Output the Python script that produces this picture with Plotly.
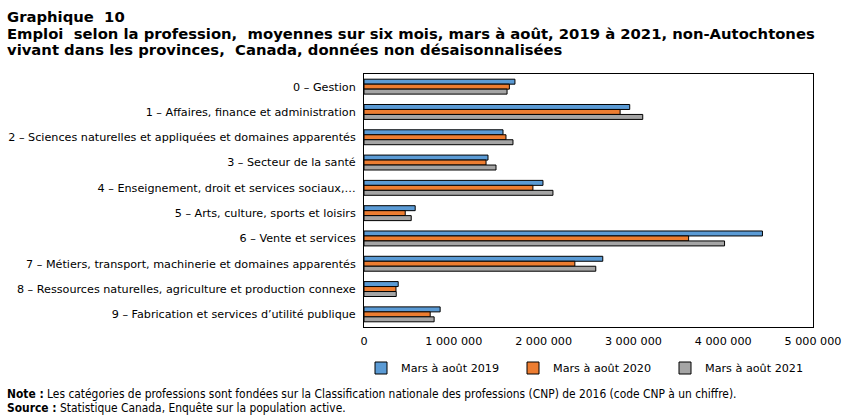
import plotly.graph_objects as go

categories = [
    "0 – Gestion",
    "1 – Affaires, finance et administration",
    "2 – Sciences naturelles et appliquées et domaines apparentés",
    "3 – Secteur de la santé",
    "4 – Enseignement, droit et services sociaux,…",
    "5 – Arts, culture, sports et loisirs",
    "6 – Vente et services",
    "7 – Métiers, transport, machinerie et domaines apparentés",
    "8 – Ressources naturelles, agriculture et production connexe",
    "9 – Fabrication et services d’utilité publique",
]
series_names = ["Mars à août 2019", "Mars à août 2020", "Mars à août 2021"]
v2019 = [1681000, 2959000, 1548000, 1381000, 1993000, 570000, 4437000, 2659000, 381000, 848000]
v2020 = [1619000, 2852000, 1581000, 1359000, 1881000, 459000, 3615000, 2348000, 356000, 737000]
v2021 = [1593000, 3104000, 1659000, 1470000, 2104000, 526000, 4015000, 2581000, 359000, 781000]
tick_vals = [0, 1000000, 2000000, 3000000, 4000000, 5000000]
tick_text = ["0", "1 000 000", "2 000 000", "3 000 000", "4 000 000", "5 000 000"]
colors = ["#5B9BD5", "#ED7D31", "#A5A5A5"]

title_lines = [
    "Graphique\u00a0 10",
    "Emploi\u00a0 selon la profession,\u00a0 moyennes sur six mois, mars à août, 2019 à 2021, non-Autochtones",
    "vivant dans les provinces,\u00a0 Canada, données non désaisonnalisées",
]
note_lines = [
    "<b>Note :</b> Les catégories de professions sont fondées sur la Classification nationale des professions (CNP) de 2016 (code CNP à un chiffre).",
    "<b>Source :</b> Statistique Canada, Enquête sur la population active.",
]

fig = go.Figure()
for name, vals, col in zip(series_names, [v2019, v2020, v2021], colors):
    fig.add_trace(go.Bar(
        y=categories, x=vals, name=name, orientation="h",
        marker=dict(color=col, line=dict(color="#000000", width=1)),
    ))

W, H = 851, 416
L, R, T, B = 364, 38, 74, 89
PW, PH = W - L - R, H - T - B

def px_x(p):
    return (p - L) / PW

def px_y(p):
    return (H - B - p) / PH

fig.update_layout(
    width=W, height=H,
    margin=dict(l=L, r=R, t=T, b=B, pad=0, autoexpand=False),
    paper_bgcolor="white", plot_bgcolor="white",
    barmode="group", bargap=0.41, bargroupgap=0,
    font=dict(family="DejaVu Sans", size=11.2, color="#000000"),
    showlegend=True,
    legend=dict(orientation="h", x=px_x(361), xanchor="left", y=px_y(368), yanchor="middle",
                font=dict(size=11.2), itemwidth=30, entrywidth=107, entrywidthmode="pixels",
                traceorder="normal", bgcolor="rgba(0,0,0,0)"),
)
fig.update_xaxes(range=[0, 5000000], tickvals=tick_vals, ticktext=tick_text, automargin=False,
                 showgrid=False, zeroline=False, showline=True, linecolor="#000000",
                 linewidth=1, mirror=True, ticks="", ticklabelstandoff=4, tickfont=dict(size=11.2))
fig.update_yaxes(autorange="reversed", showgrid=False, showline=True, linecolor="#000000",
                 automargin=False,
                 linewidth=1, mirror=True, ticks="", ticklabelstandoff=5, tickfont=dict(size=11.2))

for line, yc in zip(title_lines, [16, 33, 49.5]):
    fig.add_annotation(
        text=line, xref="paper", yref="paper", x=px_x(5), y=px_y(yc),
        xanchor="left", yanchor="middle", align="left", showarrow=False,
        font=dict(family="DejaVu Sans", size=14.8, color="#000000", weight="bold"),
    )
for line, yc in zip(note_lines, [394, 407.5]):
    fig.add_annotation(
        text=line, xref="paper", yref="paper", x=px_x(5), y=px_y(yc),
        xanchor="left", yanchor="middle", align="left", showarrow=False,
        font=dict(family="DejaVu Sans Condensed", size=11.9, color="#000000"),
    )

fig.write_html("out.html")
